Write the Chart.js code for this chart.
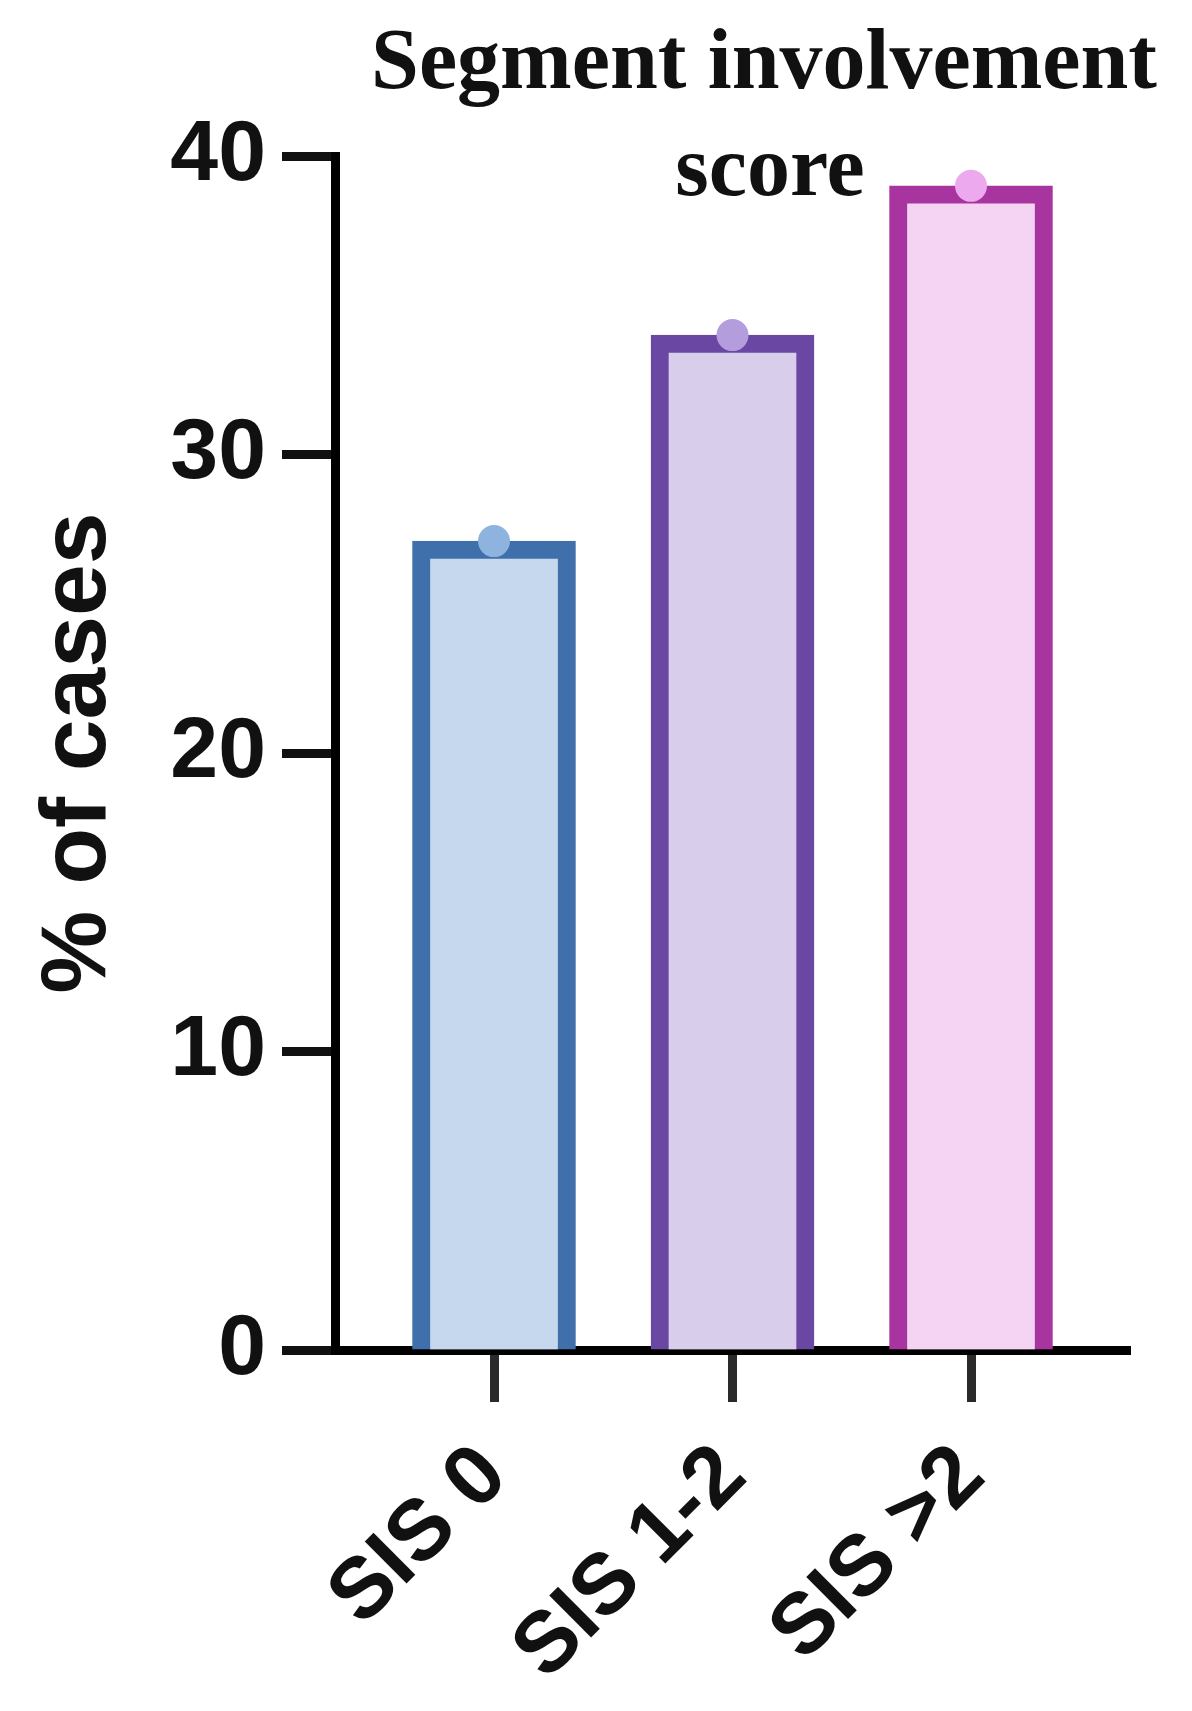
<!DOCTYPE html>
<html>
<head>
<meta charset="utf-8">
<title>Segment involvement score</title>
<script src="https://cdn.jsdelivr.net/npm/chart.js@4.4.1/dist/chart.umd.min.js"></script>
<style>
  html, body { margin: 0; padding: 0; background: #fff; overflow: hidden; }
  #wrap { position: relative; width: 1192px; height: 1711px; }
</style>
</head>
<body>
<div id="wrap"><canvas id="sisChart"></canvas></div>
<script>
// Nilai
const categories = ['SIS 0', 'SIS 1-2', 'SIS >2'];
const percentCases = [27.1, 34.0, 39.0];
const yTickValues = [0, 10, 20, 30, 40];
const titleLines = ['Segment involvement', 'score'];

const barFill = ['#c5d8ee', '#d9cdec', '#f5d3f3'];
const barEdge = ['#3f70ab', '#6a47a3', '#a8349f'];
const markerFill = ['#8fb3df', '#b39ddd', '#eda9ee'];

// posisi kategori di sumbu x linear (1, 2, 3)
const xPos = categories.map((c, i) => i + 1);
const barData = xPos.map((x, i) => ({ x: x, y: percentCases[i] }));

const sansBold = (size) => ({ family: '"Liberation Sans", Arial, sans-serif', size: size, weight: 'bold' });

// Judul menumpuk di atas area grafik, jadi digambar sendiri
const floatingTitle = {
    id: 'floatingTitle',
    afterDraw(chart) {
        const ctx = chart.ctx;
        ctx.save();
        ctx.font = 'bold 86px "Liberation Serif", "Times New Roman", serif';
        ctx.fillStyle = '#111';
        ctx.textAlign = 'center';
        ctx.textBaseline = 'alphabetic';
        ctx.fillText(titleLines[0], 764, 88);
        ctx.fillText(titleLines[1], 770, 195);
        ctx.restore();
    }
};

const ctx = document.getElementById('sisChart').getContext('2d');
new Chart(ctx, {
    type: 'bar',
    data: {
        datasets: [{
            type: 'scatter',
            data: barData,
            pointRadius: 16,
            pointBackgroundColor: markerFill,
            pointBorderWidth: 0,
            order: 0
        }, {
            data: barData,
            backgroundColor: barFill,
            borderColor: barEdge,
            borderWidth: 18,
            borderSkipped: 'start',
            barThickness: 163,
            order: 1
        }]
    },
    plugins: [floatingTitle],
    options: {
        responsive: true,
        maintainAspectRatio: false,
        animation: false,
        layout: { padding: { top: 156, right: 62, bottom: 0, left: 0 } },
        plugins: { legend: { display: false }, tooltip: { enabled: false }, title: { display: false } },
        scales: {
            x: {
                type: 'linear',
                min: 1 / 3,
                max: 11 / 3,
                offset: false,
                afterBuildTicks: (s) => { s.ticks = xPos.map(v => ({ value: v })); },
                afterFit: (s) => { s.height = 361; },
                border: { display: true, color: '#000', width: 9 },
                grid: { offset: false, drawOnChartArea: false, drawTicks: true, tickLength: 52, tickWidth: 9, tickColor: '#2a2a2a' },
                ticks: {
                    autoSkip: false,
                    minRotation: 45,
                    maxRotation: 45,
                    padding: 24,
                    color: '#111',
                    font: sansBold(86),
                    callback: (v) => categories[v - 1]
                }
            },
            y: {
                min: 0,
                max: 40,
                afterBuildTicks: (s) => { s.ticks = yTickValues.map(v => ({ value: v })); },
                afterFit: (s) => { s.width = 335; },
                border: { display: true, color: '#000', width: 9 },
                grid: { drawOnChartArea: false, drawTicks: true, tickLength: 53, tickWidth: 9, tickColor: '#111' },
                ticks: { padding: 16, color: '#111', font: sansBold(86) },
                title: {
                    display: true,
                    text: '% of cases',
                    color: '#111',
                    font: sansBold(93),
                    padding: { top: 24, bottom: 0 }
                }
            }
        }
    }
});
</script>
</body>
</html>
